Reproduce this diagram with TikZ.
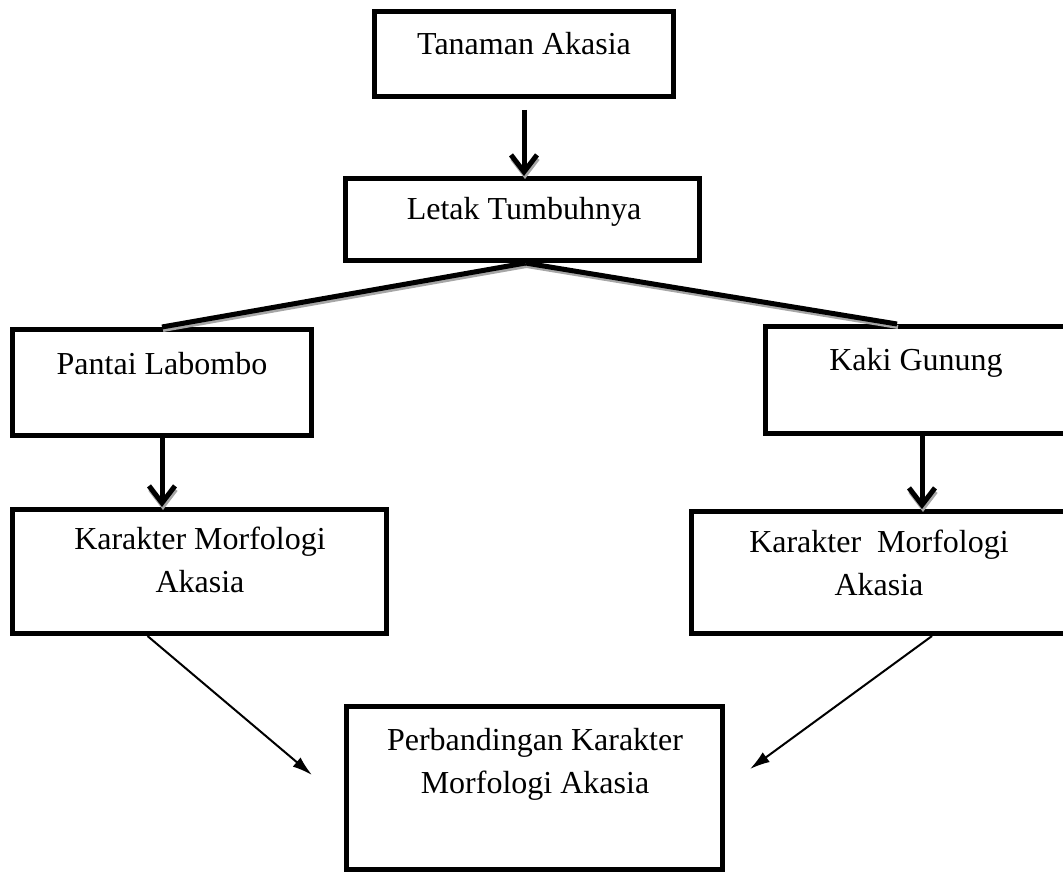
\documentclass[tikz,border=0pt]{standalone}
\usepackage{fontspec}
\setmainfont{Liberation Serif}
\usetikzlibrary{arrows.meta,positioning}

\tikzset{
  box/.style={draw, line width=5pt, inner sep=0pt},
  txt/.style={font=\fontsize{32}{43}\selectfont, align=center, inner sep=0pt, anchor=base},
  shadowed/.style={preaction={draw=gray!70, line width=4pt,
      transform canvas={shift={(1pt,-3pt)}}}},
  fork/.style={line width=5pt, shadowed},
  bigarrow/.style={line width=5pt, -{Straight Barb[length=17pt,width=26pt]}},
  thinarrow/.style={line width=2pt, -{Latex[length=20pt,width=12pt]}}
}

\begin{document}
\begin{tikzpicture}[x=1pt, y=-1pt]
    \useasboundingbox (0,0) rectangle (1063,872);
    \clip (0,0) rectangle (1063,872);

    \node[box, minimum width=299pt, minimum height=85pt] (tanaman) at (524,54) {};
    \node[box, minimum width=354pt, minimum height=82pt] (letak) at (522.5,219.5) {};
    \node[box, minimum width=299pt, minimum height=106pt] (pantai) at (162,382.5) {};
    \node[box, minimum width=313pt, minimum height=107pt] (kaki) at (922,380) {};
    \node[box, minimum width=374pt, minimum height=124pt] (karkiri) at (199.5,571.5) {};
    \node[box, minimum width=381pt, minimum height=122pt] (karkanan) at (882,572.5) {};
    \node[box, minimum width=376pt, minimum height=163pt] (banding) at (534.5,788) {};

    \node[txt] (tanamantxt) at (524,55) {Tanaman Akasia};
    \node[txt] (letaktxt) at (524,219) {Letak Tumbuhnya};
    \node[txt] (pantaitxt) at (162,374) {Pantai Labombo};
    \node[txt] (kakitxt) at (916,370) {Kaki Gunung};
    \node[txt] (karkiritxt) at (200,592) {Karakter Morfologi\\Akasia};
    \node[txt] (karkanantxt) at (879,595) {Karakter~ Morfologi\\Akasia};
    \node[txt] (bandingtxt) at (535,793) {Perbandingan Karakter\\Morfologi Akasia};

    \coordinate (kiriend) at (312,775);
    \coordinate (kananend) at (750,769);

    \draw[bigarrow, shadowed, shorten <=11pt] (tanaman.south) -- (tanaman.south |- letak.north);
    \draw[fork] ([xshift=3pt]letak.south) -- (pantai.north);
    \draw[fork] ([xshift=3pt]letak.south) -- ([xshift=-25pt]kaki.north);
    \draw[bigarrow, shadowed] (pantai.south) -- (pantai.south |- karkiri.north);
    \draw[bigarrow, shadowed] (kaki.south) -- (kaki.south |- karkanan.north);
    \draw[thinarrow] ([xshift=-52pt]karkiri.south) -- (kiriend);
    \draw[thinarrow] ([xshift=50pt]karkanan.south) -- (kananend);
\end{tikzpicture}
\end{document}
